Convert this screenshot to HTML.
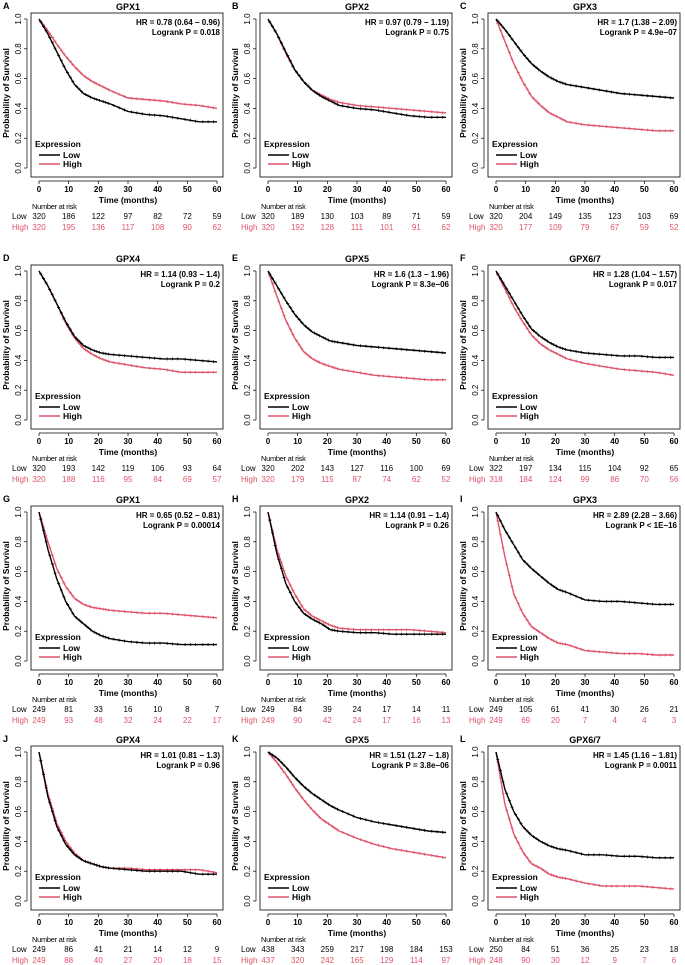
<!DOCTYPE html>
<html><head><meta charset="utf-8"><style>
body{margin:0;background:#fff;}
svg{display:block;font-family:"Liberation Sans",Arial,sans-serif;}
</style></head><body>
<svg id="fig" width="685" height="965" viewBox="0 0 685 965"></svg>
<script>
const times=[0,3,6,9,12,15,18,21,24,30,36,42,48,54,60];
const riskTimes=[0,10,20,30,40,50,60];
const yTicks=[0,0.2,0.4,0.6,0.8,1.0];
const panelLetters=["A","B","C","D","E","F","G","H","I","J","K","L"];
const panelTitles=["GPX1","GPX2","GPX3","GPX4","GPX5","GPX6/7","GPX1","GPX2","GPX3","GPX4","GPX5","GPX6/7"];
const hrText=["HR = 0.78 (0.64 − 0.96)","HR = 0.97 (0.79 − 1.19)","HR = 1.7 (1.38 − 2.09)","HR = 1.14 (0.93 − 1.4)","HR = 1.6 (1.3 − 1.96)","HR = 1.28 (1.04 − 1.57)","HR = 0.65 (0.52 − 0.81)","HR = 1.14 (0.91 − 1.4)","HR = 2.89 (2.28 − 3.66)","HR = 1.01 (0.81 − 1.3)","HR = 1.51 (1.27 − 1.8)","HR = 1.45 (1.16 − 1.81)"];
const pText=["Logrank P = 0.018","Logrank P = 0.75","Logrank P = 4.9e−07","Logrank P = 0.2","Logrank P = 8.3e−06","Logrank P = 0.017","Logrank P = 0.00014","Logrank P = 0.26","Logrank P < 1E−16","Logrank P = 0.96","Logrank P = 3.8e−06","Logrank P = 0.0011"];
const lowSurv=[
[1,.9,.78,.66,.56,.5,.47,.45,.43,.38,.36,.35,.33,.31,.31],
[1,.9,.78,.66,.58,.52,.48,.45,.42,.4,.39,.37,.35,.34,.34],
[1,.93,.85,.77,.7,.65,.61,.58,.56,.54,.52,.5,.49,.48,.47],
[1,.9,.78,.66,.56,.5,.47,.45,.44,.43,.42,.41,.41,.4,.39],
[1,.9,.8,.71,.64,.59,.56,.53,.52,.5,.49,.48,.47,.46,.45],
[1,.9,.8,.7,.61,.56,.52,.49,.47,.45,.44,.43,.43,.42,.42],
[1,.75,.55,.4,.3,.25,.2,.17,.15,.13,.12,.12,.11,.11,.11],
[1,.72,.52,.4,.32,.28,.25,.21,.2,.19,.19,.18,.18,.18,.18],
[1,.88,.78,.68,.62,.57,.52,.48,.46,.41,.4,.4,.39,.38,.38],
[1,.7,.5,.38,.31,.27,.25,.23,.22,.21,.2,.2,.2,.18,.18],
[1,.96,.9,.83,.77,.72,.68,.64,.61,.56,.53,.51,.49,.47,.46],
[1,.75,.6,.5,.44,.4,.37,.35,.34,.31,.31,.3,.3,.29,.29]];
const highSurv=[
[1,.92,.83,.75,.68,.62,.58,.55,.52,.47,.46,.45,.43,.42,.4],
[1,.9,.77,.66,.58,.52,.49,.46,.44,.42,.41,.4,.39,.38,.37],
[1,.85,.7,.58,.48,.42,.37,.34,.31,.29,.28,.27,.26,.25,.25],
[1,.9,.78,.65,.55,.48,.44,.41,.39,.37,.35,.34,.32,.32,.32],
[1,.83,.67,.55,.46,.41,.38,.36,.34,.32,.3,.29,.28,.27,.27],
[1,.88,.76,.66,.57,.51,.47,.44,.41,.38,.36,.34,.33,.32,.3],
[1,.8,.62,.5,.42,.38,.36,.35,.34,.33,.32,.32,.31,.3,.29],
[1,.75,.57,.45,.35,.3,.27,.24,.22,.21,.21,.21,.21,.2,.19],
[1,.7,.45,.32,.23,.19,.15,.12,.11,.07,.06,.05,.05,.04,.04],
[1,.72,.52,.4,.32,.27,.25,.23,.22,.22,.21,.21,.21,.21,.19],
[1,.93,.85,.76,.68,.61,.55,.51,.47,.42,.38,.35,.33,.31,.29],
[1,.65,.45,.33,.25,.22,.18,.16,.15,.12,.1,.1,.1,.09,.08]];
const lowRisk=[[320,186,122,97,82,72,59],[320,189,130,103,89,71,59],[320,204,149,135,123,103,69],[320,193,142,119,106,93,64],[320,202,143,127,116,100,69],[322,197,134,115,104,92,65],[249,81,33,16,10,8,7],[249,84,39,24,17,14,11],[249,105,61,41,30,26,21],[249,86,41,21,14,12,9],[438,343,259,217,198,184,153],[250,84,51,36,25,23,18]];
const highRisk=[[320,195,136,117,108,90,62],[320,192,128,111,101,91,62],[320,177,109,79,67,59,52],[320,188,116,95,84,69,57],[320,179,115,87,74,62,52],[318,184,124,99,86,70,56],[249,93,48,32,24,22,17],[249,90,42,24,17,16,13],[249,69,20,7,4,4,3],[249,88,40,27,20,18,15],[437,320,242,165,129,114,97],[248,90,30,12,9,7,6]];

const RED="#DF536B";
const colX=[0,229,457], rowY=[0,252,493,733];
const NS="http://www.w3.org/2000/svg";
const svg=document.getElementById('fig');
function mk(tag,attrs,parent,text){const e=document.createElementNS(NS,tag);for(const k in attrs)e.setAttribute(k,attrs[k]);if(text!==undefined)e.textContent=text;parent.appendChild(e);return e;}

for(let p=0;p<12;p++){
  const ox=colX[p%3], oy=rowY[Math.floor(p/3)];
  const g=mk('g',{transform:`translate(${ox},${oy})`},svg);
  
  
  const X=t=>39+t*(178/60), Y=s=>168-s*149;
  const lt=mk('text',{x:3,y:9,'font-size':9,'font-weight':'bold'},g,panelLetters[p]);
  
  
  const tt=mk('text',{x:128,y:10,'font-size':9,'font-weight':'bold','text-anchor':'middle'},g,panelTitles[p]);
  
  
  const box=mk('rect',{x:31,y:13,width:192,height:164,fill:'none',stroke:'#000','stroke-width':0.8},g);
  
  
  mk('line',{x1:27,x2:27,y1:Y(0),y2:Y(1),stroke:'#000','stroke-width':0.7},g);
  yTicks.forEach(v=>{
    mk('line',{x1:24,x2:27,y1:Y(v),y2:Y(v),stroke:'#000','stroke-width':0.7},g);
    const t=mk('text',{x:21,y:Y(v),'font-size':8,'text-anchor':'middle',transform:`rotate(-90 21 ${Y(v)})`},g,v.toFixed(1));
    
    
  });
  const yl=mk('text',{x:9,y:93,'font-size':8.5,'font-weight':'bold','text-anchor':'middle',transform:'rotate(-90 9 93)'},g,'Probability of Survival');
  
  
  mk('line',{x1:X(0),x2:X(60),y1:181,y2:181,stroke:'#000','stroke-width':0.7},g);
  riskTimes.forEach(v=>{
    mk('line',{x1:X(v),x2:X(v),y1:181,y2:184,stroke:'#000','stroke-width':0.7},g);
    const t=mk('text',{x:X(v),y:192,'font-size':8,'font-weight':'bold','text-anchor':'middle'},g,v);
    
    
  });
  const xl=mk('text',{x:128,y:203,'font-size':8.5,'font-weight':'bold','text-anchor':'middle'},g,'Time (months)');
  
  
  const h1=mk('text',{x:220,y:25,'font-size':8,'font-weight':'bold','text-anchor':'end'},g,hrText[p]);
  
  
  const h2=mk('text',{x:220,y:35,'font-size':8,'font-weight':'bold','text-anchor':'end'},g,pText[p]);
  
  
  [[highSurv[p],RED,'high-curve'],[lowSurv[p],'#000','low-curve']].forEach(([s,c,nm])=>{
    let d='';
    s.forEach((v,i)=>{d+=(i?'L':'M')+X(times[i]).toFixed(1)+','+Y(v).toFixed(1);});
    const path=mk('path',{d:d,fill:'none',stroke:c,'stroke-width':1.4},g);
    
    
    let cd='';
    for(let i=1;i<s.length;i++){
      for(let f=0.2;f<1;f+=0.3){
        const t=times[i-1]+(times[i]-times[i-1])*f, v=s[i-1]+(s[i]-s[i-1])*f;
        cd+=`M${(X(t)-1.5).toFixed(1)},${Y(v).toFixed(1)}h3M${X(t).toFixed(1)},${(Y(v)-1.5).toFixed(1)}v3`;
      }
    }
    mk('path',{d:cd,stroke:c,'stroke-width':0.7,fill:'none'},g);
  });
  const lg=mk('g',{},g);
  
  
  mk('text',{x:35,y:147,'font-size':8.5,'font-weight':'bold'},lg,'Expression');
  mk('line',{x1:39,x2:60,y1:155,y2:155,stroke:'#000','stroke-width':1.6},lg);
  const e1=mk('text',{x:63,y:158,'font-size':8.5,'font-weight':'bold'},lg,'Low');
  
  
  mk('line',{x1:39,x2:60,y1:164,y2:164,stroke:RED,'stroke-width':1.6},lg);
  const e2=mk('text',{x:63,y:167,'font-size':8.5,'font-weight':'bold'},lg,'High');
  
  
  const nr=mk('text',{x:32,y:209,'font-size':7.5,'letter-spacing':'-0.3'},g,'Number at risk');
  
  
  mk('text',{x:12,y:219,'font-size':8},g,'Low');
  mk('text',{x:12,y:230,'font-size':8,fill:RED},g,'High');
  riskTimes.forEach((t,i)=>{
    const a=mk('text',{x:X(t),y:219,'font-size':8,'text-anchor':'middle'},g,lowRisk[p][i]);
    
    
    const b=mk('text',{x:X(t),y:230,'font-size':8,'text-anchor':'middle',fill:RED},g,highRisk[p][i]);
    
    
  });
}
</script>
</body></html>
